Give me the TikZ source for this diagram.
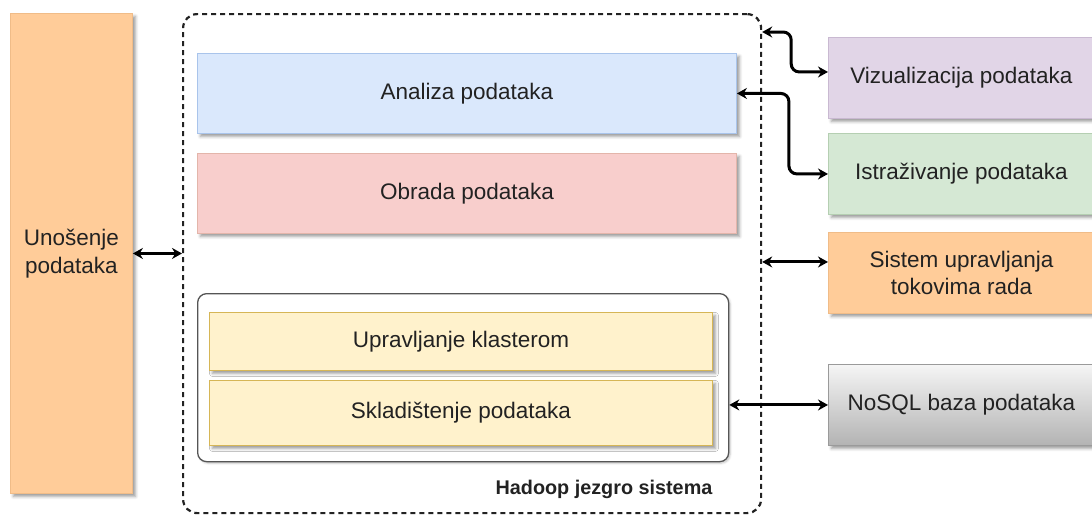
\documentclass[tikz,border=0pt]{standalone}
\usepackage{fontspec}
\setmainfont{Liberation Sans}
\usetikzlibrary{arrows.meta,shadows.blur,calc}

\definecolor{txt}{HTML}{222222}
\definecolor{orangeF}{HTML}{FFCC99}
\definecolor{orangeD}{HTML}{F0BC88}
\definecolor{blueF}{HTML}{DAE8FC}
\definecolor{blueD}{HTML}{A9C4EB}
\definecolor{pinkF}{HTML}{F8CECC}
\definecolor{pinkD}{HTML}{E3B5AA}
\definecolor{yellowF}{HTML}{FFF2CC}
\definecolor{yellowD}{HTML}{D6B656}
\definecolor{purpleF}{HTML}{E1D5E7}
\definecolor{purpleD}{HTML}{C9B9D1}
\definecolor{greenF}{HTML}{D5E8D4}
\definecolor{greenD}{HTML}{B5CFB2}
\definecolor{grayTop}{HTML}{F5F5F5}
\definecolor{grayBot}{HTML}{B3B3B3}
\definecolor{grayD}{HTML}{9A9A9A}
\definecolor{frameD}{HTML}{555555}

\begin{document}
\begin{tikzpicture}[x=1pt,y=-1pt,
  softshadow/.style={blur shadow={shadow xshift=3pt,shadow yshift=-3pt,
      shadow blur radius=3pt,shadow opacity=40}},
  box/.style={draw,line width=0.9pt,anchor=north west,inner sep=0pt,
      text=txt,font=\fontsize{22.5}{27.5}\selectfont,align=center,softshadow},
  sidebox/.style={box,minimum width=266pt,minimum height=81pt},
  corebox/.style={box,minimum width=539pt,minimum height=80pt},
  stackbox/.style={box,minimum width=503pt},
  link/.style={line width=3pt,rounded corners=8pt,
      {Stealth[length=10pt,width=11pt]}-{Stealth[length=10pt,width=11pt]}}
]
\useasboundingbox (0,0) rectangle (1092,514);

% ingestion column on the left
\node[box,fill=orangeF,draw=orangeD,minimum width=122pt,minimum height=480pt]
  (uno) at (10,13) {Uno\v{s}enje\\podataka};

% dashed frame of the Hadoop core
\node[draw=txt,line width=2.2pt,dash pattern=on 5pt off 4pt,rounded corners=14pt,
  anchor=north west,inner sep=0pt,minimum width=578pt,minimum height=499pt]
  (core) at (182,13) {};
\node[font=\bfseries\fontsize{19.8}{23}\selectfont,text=txt] (hlab) at (604,489)
  {Hadoop jezgro sistema};

% layers inside the core
\node[corebox,fill=blueF,draw=blueD] (ana) at (197,53) {Analiza podataka};
\node[corebox,fill=pinkF,draw=pinkD] (obr) at (197,153) {Obrada podataka};

\node[draw=frameD,line width=1.3pt,rounded corners=9pt,fill=white,anchor=north west,
  inner sep=0pt,minimum width=531pt,minimum height=168pt,
  blur shadow={shadow xshift=1.5pt,shadow yshift=-1.5pt,shadow blur radius=2pt,shadow opacity=25}]
  (stack) at (197,293) {};
\node[stackbox,fill=yellowF,draw=yellowD,minimum height=58pt] (upr) at (209,312)
  {Upravljanje klasterom};
\node[stackbox,fill=yellowF,draw=yellowD,minimum height=65pt] (skl) at (209,380)
  {Skladi\v{s}tenje podataka};

% external tools on the right
\node[sidebox,fill=purpleF,draw=purpleD] (viz) at (828,37) {Vizualizacija podataka};
\node[sidebox,fill=greenF,draw=greenD] (ist) at (828,133) {Istra\v{z}ivanje podataka};
\node[sidebox,fill=orangeF,draw=orangeD] (sis) at (828,232)
  {Sistem upravljanja\\tokovima rada};
\node[sidebox,top color=grayTop,bottom color=grayBot,draw=grayD] (nos) at (828,364)
  {NoSQL baza podataka};

% connectors
\coordinate (vizin) at ($(viz.west)+(0,-6)$);
\coordinate (sisin) at ($(sis.west)+(0,-11)$);
\draw[link] (uno.east) -- (uno.east -| core.west);
\draw[link] ($(core.north east)+(0,19)$) -- ++(29,0) |- (vizin);
\draw[link] (ana.east) -- ++(52,0) |- (ist.west);
\draw[link] (core.east |- sisin) -- (sisin);
\draw[link] (nos.west -| stack.east) -- (nos.west);
\end{tikzpicture}
\end{document}
